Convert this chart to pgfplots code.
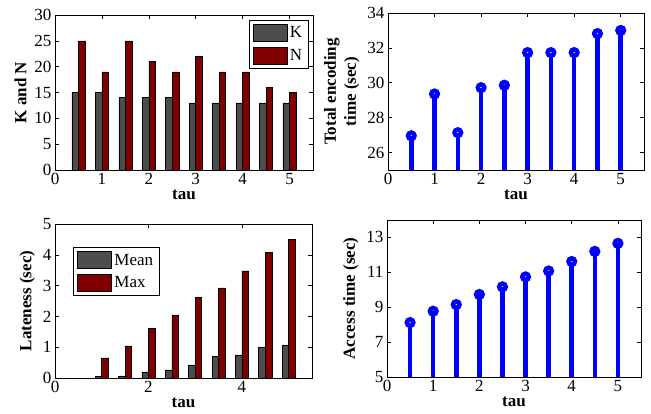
\documentclass[border=0pt]{standalone}
\usepackage{fontspec}
\setmainfont{Liberation Serif}
\usepackage{pgfplots}
\pgfplotsset{compat=1.18}

\definecolor{kgray}{RGB}{77,77,77}
\definecolor{nred}{RGB}{128,0,0}
\definecolor{stemblue}{RGB}{0,0,255}

\pgfplotsset{
  mat/.style={
    scale only axis,
    anchor=south west,
    xmin=0, xmax=5.5,
    axis line style={line width=0.8pt},
    major tick length=4pt,
    tick style={black, line width=0.6pt},
    /pgf/number format/assume math mode=true,
    tick label style={font=\fontsize{17}{17}\selectfont},
    label style={font=\fontsize{17}{20}\selectfont\bfseries},
    xlabel={tau},
    xlabel style={yshift=2pt},
    ylabel style={yshift=1pt},
  },
  matbar/.style={
    ybar, bar width=0.14, draw=black, line width=0.5pt,
    legend image code/.code={\draw[##1] (0pt,-8.5pt) rectangle (34pt,8.5pt);},
  },
  matstem/.style={
    ycomb, draw=stemblue, line width=4.5pt,
    mark=o, mark size=3.25pt,
    mark options={draw=stemblue, fill=white, line width=4.5pt},
  },
  matlegend/.style={
    legend style={draw=black, line width=0.8pt, fill=white,
      font=\fontsize{17}{17}\selectfont,
      inner xsep=4pt, inner ysep=4pt, row sep=5pt,
      nodes={inner xsep=2.5pt, inner ysep=0pt},
      cells={anchor=west}},
  },
}

\begin{document}
\begin{tikzpicture}[x=1pt,y=1pt]
\useasboundingbox (0,0) rectangle (651,413);

% K and N
\begin{axis}[mat, matlegend, at={(55pt,243pt)}, width=258pt, height=155pt,
  ymin=0, ymax=30, ytick={0,5,...,30}, xtick={0,1,...,5},
  ylabel={K and N},
  legend style={at={(0.985,0.968)}, anchor=north east}]
\addplot[matbar, fill=kgray, bar shift=-0.07] coordinates {
  (0.5,15) (1,15) (1.5,14) (2,14) (2.5,14) (3,13) (3.5,13) (4,13) (4.5,13) (5,13)};
\addplot[matbar, fill=nred, bar shift=0.07] coordinates {
  (0.5,25) (1,19) (1.5,25) (2,21) (2.5,19) (3,22) (3.5,19) (4,19) (4.5,16) (5,15)};
\legend{K,N}
\end{axis}

% Total encoding time
\begin{axis}[mat, at={(388pt,243pt)}, width=256pt, height=157pt,
  ymin=25, ymax=34, ytick={26,28,...,34}, xtick={0,1,...,5},
  ylabel={Total encoding\\time (sec)}, ylabel style={align=center}]
\addplot[matstem] coordinates {
  (0.5,26.96) (1,29.36) (1.5,27.14) (2,29.72) (2.5,29.86)
  (3,31.73) (3.5,31.73) (4,31.73) (4.5,32.82) (5,33.0)};
\end{axis}

% Lateness
\begin{axis}[mat, matlegend, at={(55pt,35pt)}, width=257pt, height=154pt,
  ymin=0, ymax=5, ytick={0,1,...,5}, xtick={0,2,4},
  ylabel={Lateness (sec)},
  legend style={at={(0.07,0.85)}, anchor=north west}]
\addplot[matbar, fill=kgray, bar shift=-0.07] coordinates {
  (0.5,0) (1,0.06) (1.5,0.07) (2,0.2) (2.5,0.26) (3,0.43) (3.5,0.7) (4,0.75) (4.5,1.0) (5,1.05)};
\addplot[matbar, fill=nred, bar shift=0.07] coordinates {
  (0.5,0) (1,0.65) (1.5,1.04) (2,1.62) (2.5,2.05) (3,2.61) (3.5,2.93) (4,3.48) (4.5,4.07) (5,4.5)};
\legend{Mean,Max}
\end{axis}

% Access time
\begin{axis}[mat, at={(387pt,36pt)}, width=254pt, height=157pt,
  ymin=5, ymax=14, ytick={5,7,...,13}, xtick={0,1,...,5},
  ylabel={Access time (sec)}]
\addplot[matstem] coordinates {
  (0.5,8.12) (1,8.77) (1.5,9.15) (2,9.73) (2.5,10.17)
  (3,10.74) (3.5,11.08) (4,11.62) (4.5,12.2) (5,12.66)};
\end{axis}
\end{tikzpicture}
\end{document}
